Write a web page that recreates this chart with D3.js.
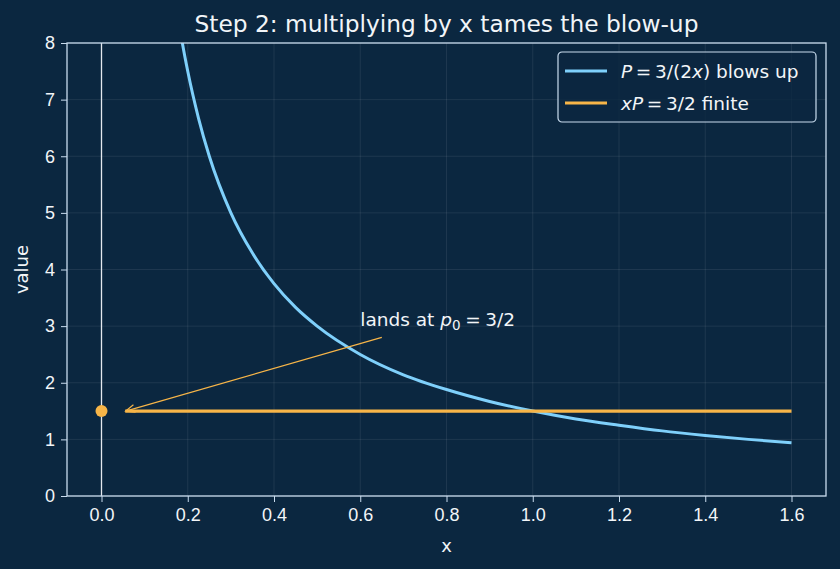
<!DOCTYPE html>
<html>
<head>
<meta charset="utf-8">
<script src="https://cdn.jsdelivr.net/npm/d3@7"></script>
<style>
  body { margin: 0; background: #0b2740; }
  svg { display: block; font-family: "DejaVu Sans", sans-serif; }
  .axis path, .axis line { stroke: #c9dcee; }
  .axis text { fill: #f2f5f8; font-size: 18px; }
  .grid line { stroke: #ffffff; stroke-opacity: 0.08; }
</style>
</head>
<body>
<div id="chart"></div>
<script>
// curve P = 3/(2x)
const curveX = [0.05, 0.1, 0.15, 0.1875, 0.2, 0.225, 0.25, 0.3, 0.35, 0.4, 0.45, 0.5, 0.6, 0.7, 0.8, 0.9, 1.0, 1.1, 1.2, 1.3, 1.4, 1.5, 1.6];
const curveP = [30, 15, 10, 8, 7.5, 6.67, 6, 5, 4.29, 3.75, 3.33, 3, 2.5, 2.14, 1.88, 1.67, 1.5, 1.36, 1.25, 1.15, 1.07, 1.0, 0.94];
// xP stays at 3/2
const flatX = [0.055, 1.6];
const flatXP = [1.5, 1.5];
const landPoint = [0, 1.5];
const xTicks = [0, 0.2, 0.4, 0.6, 0.8, 1.0, 1.2, 1.4, 1.6];
const yTicks = [0, 1, 2, 3, 4, 5, 6, 7, 8];

const W = 840, H = 569;
const margin = {top: 43, right: 14, bottom: 73, left: 67};
const width = W - margin.left - margin.right;
const height = H - margin.top - margin.bottom;

const blue = "#7fd0fb", orange = "#f7b548";
const textCol = "#f2f5f8";

const svg = d3.select("#chart").append("svg").attr("width", W).attr("height", H);
svg.append("rect").attr("width", W).attr("height", H).attr("fill", "#0b2740");

const x = d3.scaleLinear().domain([-0.08, 1.68]).range([0, width]);
const y = d3.scaleLinear().domain([0, 8]).range([height, 0]);

const chart = svg.append("g").attr("transform", "translate(" + margin.left + "," + margin.top + ")");

svg.append("defs").append("clipPath").attr("id", "clip")
  .append("rect").attr("width", width).attr("height", height);

// grid
const grid = chart.append("g").attr("class", "grid");
grid.selectAll(".gx").data(xTicks).enter().append("line")
  .attr("x1", d => x(d)).attr("x2", d => x(d)).attr("y1", 0).attr("y2", height);
grid.selectAll(".gy").data(yTicks).enter().append("line")
  .attr("x1", 0).attr("x2", width).attr("y1", d => y(d)).attr("y2", d => y(d));

// vertical line at x = 0
chart.append("line")
  .attr("x1", x(0)).attr("x2", x(0)).attr("y1", 0).attr("y2", height)
  .attr("stroke", "#e4e8ee").attr("stroke-width", 1.3);

const plot = chart.append("g").attr("clip-path", "url(#clip)");

const line = d3.line().x(d => x(d[0])).y(d => y(d[1])).curve(d3.curveMonotoneX);

plot.append("path")
  .datum(curveX.map((v, i) => [v, curveP[i]]))
  .attr("d", line).attr("fill", "none")
  .attr("stroke", blue).attr("stroke-width", 3);

plot.append("path")
  .datum(flatX.map((v, i) => [v, flatXP[i]]))
  .attr("d", line).attr("fill", "none")
  .attr("stroke", orange).attr("stroke-width", 3.2);

plot.append("circle")
  .attr("cx", x(landPoint[0])).attr("cy", y(landPoint[1])).attr("r", 6)
  .attr("fill", orange);

// annotation arrow
const ax0 = x(0.65), ay0 = y(2.8), ax1 = x(0.056), ay1 = y(1.5);
chart.append("line")
  .attr("x1", ax0).attr("y1", ay0).attr("x2", ax1).attr("y2", ay1)
  .attr("stroke", orange).attr("stroke-width", 1.2);
const ang = Math.atan2(ay0 - ay1, ax0 - ax1);
const hl = 10, hw = 0.4;
chart.append("path")
  .attr("d", "M" + (ax1 + hl * Math.cos(ang + hw)) + "," + (ay1 + hl * Math.sin(ang + hw)) +
    "L" + ax1 + "," + ay1 +
    "L" + (ax1 + hl * Math.cos(ang - hw)) + "," + (ay1 + hl * Math.sin(ang - hw)))
  .attr("fill", "none").attr("stroke", orange).attr("stroke-width", 1.2);

const ann = chart.append("text")
  .attr("x", x(0.6)).attr("y", y(3.0))
  .attr("fill", textCol).attr("font-size", 18.5);
ann.append("tspan").text("lands at ");
ann.append("tspan").attr("font-style", "italic").text("p");
ann.append("tspan").attr("font-size", 13.5).attr("dy", 4).text("0");
ann.append("tspan").attr("dy", -4).text("\u2005=\u20053/2");

// axes
chart.append("g").attr("class", "axis")
  .attr("transform", "translate(0," + height + ")")
  .call(d3.axisBottom(x).tickValues(xTicks).tickFormat(d3.format(".1f")).tickSizeOuter(0).tickSize(6).tickPadding(6))
  .call(g => g.select(".domain").remove());
chart.append("g").attr("class", "axis")
  .call(d3.axisLeft(y).tickValues(yTicks).tickFormat(d3.format("d")).tickSizeOuter(0).tickSize(6).tickPadding(6))
  .call(g => g.select(".domain").remove());

// frame
chart.append("rect").attr("width", width).attr("height", height)
  .attr("fill", "none").attr("stroke", "#c9dcee").attr("stroke-width", 1.3);

// titles
svg.append("text").attr("x", margin.left + width / 2).attr("y", 32)
  .attr("text-anchor", "middle").attr("fill", textCol).attr("font-size", 23.3)
  .text("Step 2: multiplying by x tames the blow-up");
svg.append("text").attr("x", margin.left + width / 2).attr("y", 552)
  .attr("text-anchor", "middle").attr("fill", textCol).attr("font-size", 18)
  .text("x");
svg.append("text").attr("transform", "translate(28," + (margin.top + height / 2) + ") rotate(-90)")
  .attr("text-anchor", "middle").attr("fill", textCol).attr("font-size", 18)
  .text("value");

// legend
const lg = chart.append("g").attr("transform", "translate(" + (width - 268) + ",9)");
lg.append("rect").attr("width", 258).attr("height", 70).attr("rx", 4)
  .attr("fill", "#0b2740").attr("fill-opacity", 0.8)
  .attr("stroke", "#c9dcee").attr("stroke-width", 1.2);
const items = [
  {color: blue, parts: [["P", true], ["\u2009=\u20093/(2", false], ["x", true], [") blows up", false]]},
  {color: orange, parts: [["xP", true], ["\u2009=\u20093/2 finite", false]]}
];
items.forEach((it, i) => {
  const yy = 19 + i * 32;
  lg.append("line").attr("x1", 7).attr("x2", 49).attr("y1", yy).attr("y2", yy)
    .attr("stroke", it.color).attr("stroke-width", 3);
  const t = lg.append("text").attr("x", 63).attr("y", yy + 6.5)
    .attr("fill", textCol).attr("font-size", 18.5);
  it.parts.forEach(p => t.append("tspan").attr("font-style", p[1] ? "italic" : null).text(p[0]));
});
</script>
</body>
</html>
